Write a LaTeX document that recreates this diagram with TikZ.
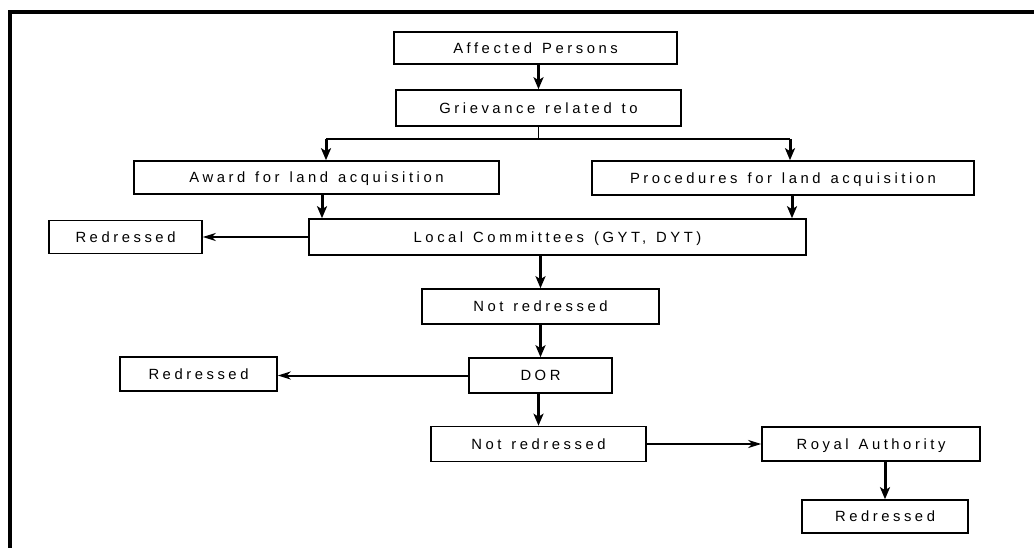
\documentclass[tikz,border=0pt]{standalone}
\usepackage{fontspec}
\setmainfont{Liberation Sans}[LetterSpace=24, WordSpace=1.3]
\usetikzlibrary{arrows.meta}
\begin{document}
\begin{tikzpicture}[x=1pt,y=-1pt,
  box/.style={draw, line width=1.6pt, inner sep=0pt, text height=10.6pt, text depth=0pt,
    font=\fontsize{14.8}{17}\selectfont},
  varrow/.style={line width=3pt, -{Stealth[length=12pt,width=10pt,inset=3pt]}},
  harrow/.style={line width=2pt, -{Stealth[length=13pt,width=8pt,inset=4pt]}},
  thinline/.style={line width=1.1pt}]
\useasboundingbox (0,0) rectangle (1034,548);
\draw[line width=4pt] (10,548) -- (10,12) -- (1034,12);

\node[box, minimum width=283pt, minimum height=32pt] (aff) at (535.5,48) {Affected Persons};
\node[box, minimum width=285pt, minimum height=36pt] (griev) at (538.5,108) {Grievance related to};
\node[box, minimum width=365pt, minimum height=33pt] (award) at (316.5,177.5) {Award for land acquisition};
\node[box, minimum width=382pt, minimum height=34pt] (proc) at (783,178) {Procedures for land acquisition};
\node[box, minimum width=497pt, minimum height=36pt] (local) at (557.5,237) {Local Committees (GYT, DYT)};
\node[box, minimum width=153pt, minimum height=33pt] (red1) at (125.5,237) {Redressed};
\node[box, minimum width=237pt, minimum height=35pt] (nr1) at (540.5,306.5) {Not redressed};
\node[box, minimum width=143pt, minimum height=35pt] (dor) at (540.5,375.5) {DOR};
\node[box, minimum width=157pt, minimum height=34pt] (red2) at (198.5,374) {Redressed};
\node[box, minimum width=215pt, minimum height=35pt] (nr2) at (538.5,444) {Not redressed};
\node[box, minimum width=218pt, minimum height=34pt] (royal) at (871,444) {Royal Authority};
\node[box, minimum width=166pt, minimum height=33pt] (red3) at (885,516.5) {Redressed};

\coordinate (br) at (538.5,139);
\draw[varrow] (aff.south -| griev.north) -- (griev.north);
\draw[thinline] (griev.south) -- (br);
\draw[thinline] (br) -- (br -| 326,0);
\draw[thinline] (br) -- (br -| 790,0);
\draw[varrow] (br -| 326,0) -- ([xshift=9.5pt]award.north);
\draw[varrow] (br -| 790,0) -- ([xshift=7pt]proc.north);
\draw[varrow] ([xshift=5.5pt]award.south) -- ([xshift=5.5pt]award.south |- local.north);
\draw[varrow] ([xshift=9pt]proc.south) -- ([xshift=9pt]proc.south |- local.north);
\draw[harrow] (local.west) -- (local.west -| red1.east);
\draw[varrow] (nr1.north |- local.south) -- (nr1.north);
\draw[varrow] (nr1.south) -- (dor.north);
\draw[harrow] (dor.west) -- (dor.west -| red2.east);
\draw[varrow] (nr2.north |- dor.south) -- (nr2.north);
\draw[harrow] (nr2.east) -- (nr2.east -| royal.west);
\draw[varrow] (red3.north |- royal.south) -- (red3.north);
\end{tikzpicture}
\end{document}
